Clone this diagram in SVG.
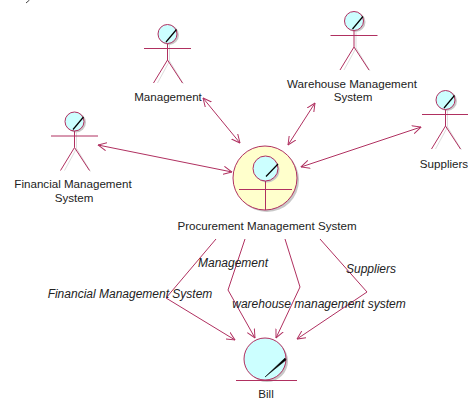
<svg xmlns="http://www.w3.org/2000/svg" width="468" height="400" viewBox="0 0 468 400">
<style>
text{font-family:"Liberation Sans",Arial,sans-serif;font-size:11.600px;fill:#222;text-anchor:middle}
text.i{font-style:italic;font-size:12px}
.l{fill:none;stroke:#b03060;stroke-width:1}
.s{fill:none;stroke:#ddd;stroke-width:1}
.sd{fill:#c8c8c8;stroke:none}
.h{fill:#ccffff;stroke:#b03060;stroke-width:1}
.p{fill:none;stroke:#000;stroke-width:1.200}
.c{fill:none;stroke:#b03060;stroke-width:1}
</style>
<defs>
<marker id="a" viewBox="0 0 10 10" refX="9.500" refY="5" markerWidth="9" markerHeight="9" markerUnits="userSpaceOnUse" orient="auto-start-reverse"><path d="M0 0.500L9.500 5L0 9.500" fill="none" stroke="#b03060" stroke-width="1.100"/></marker>
<g id="actor">
<path class="s" d="M2 -3V13L-10 35M2 13L16 36"/>
<circle class="sd" cx="1.500" cy="-13" r="10"/>
<circle class="h" cy="-14" r="9.500"/>
<path class="p" d="M-1.500 -6L9 -18.500"/>
<path class="l" d="M0 -4.500V12M-23.500 0.500H23.500M0 12L-14 35M0 12L15 35"/>
</g>
</defs>
<path d="M29.500 0L26 3" fill="none" stroke="#444"/>
<g id="connectors">
<path class="c" marker-start="url(#a)" marker-end="url(#a)" d="M203 98L240 143"/>
<path class="c" marker-start="url(#a)" marker-end="url(#a)" d="M98 145L232 172"/>
<path class="c" marker-start="url(#a)" marker-end="url(#a)" d="M315 103L288 145"/>
<path class="c" marker-start="url(#a)" marker-end="url(#a)" d="M421 127L301 167"/>
<path class="c" marker-end="url(#a)" d="M216 239L166 298L235 340"/>
<path class="c" marker-end="url(#a)" d="M245 239L228 290L255 338"/>
<path class="c" marker-end="url(#a)" d="M285 239L300 287L276 338"/>
<path class="c" marker-end="url(#a)" d="M320 239L367 292L297 339"/>
</g>
<g id="management"><use href="#actor" x="167.500" y="48"/><text x="168" y="101">Management</text></g>
<g id="financial"><use href="#actor" x="74.500" y="135.500"/><text x="73" y="188">Financial Management</text><text x="74" y="202">System</text></g>
<g id="warehouse"><use href="#actor" x="354" y="35"/><text x="352" y="88">Warehouse Management</text><text x="353" y="101">System</text></g>
<g id="suppliers"><use href="#actor" x="445.500" y="114"/><text x="444" y="168">Suppliers</text></g>
<g id="procurement">
<circle class="sd" cx="267" cy="180" r="32"/>
<circle cx="265" cy="178" r="32" fill="#ffffcc" stroke="#b03060"/>
<circle class="sd" cx="267" cy="170" r="12.500"/>
<circle class="h" cx="265.500" cy="168.500" r="12.500"/>
<path class="p" d="M266 176.500L278 164"/>
<path class="l" d="M265.500 181V210M239 189.500H292"/>
<text x="267" y="230">Procurement Management System</text>
</g>
<g id="bill">
<circle class="sd" cx="267" cy="361" r="21"/>
<circle class="h" cx="265" cy="359" r="21"/>
<path d="M265 377L285 358L286 360Z" fill="#000" stroke="#000" stroke-width="0.500"/>
<path class="l" d="M236 380.500H297"/>
<text x="266" y="398">Bill</text>
</g>
<g id="labels">
<text class="i" x="233" y="267">Management</text>
<text class="i" x="130" y="298">Financial Management System</text>
<text class="i" x="319" y="308">warehouse management system</text>
<text class="i" x="371" y="273">Suppliers</text>
</g>
</svg>
